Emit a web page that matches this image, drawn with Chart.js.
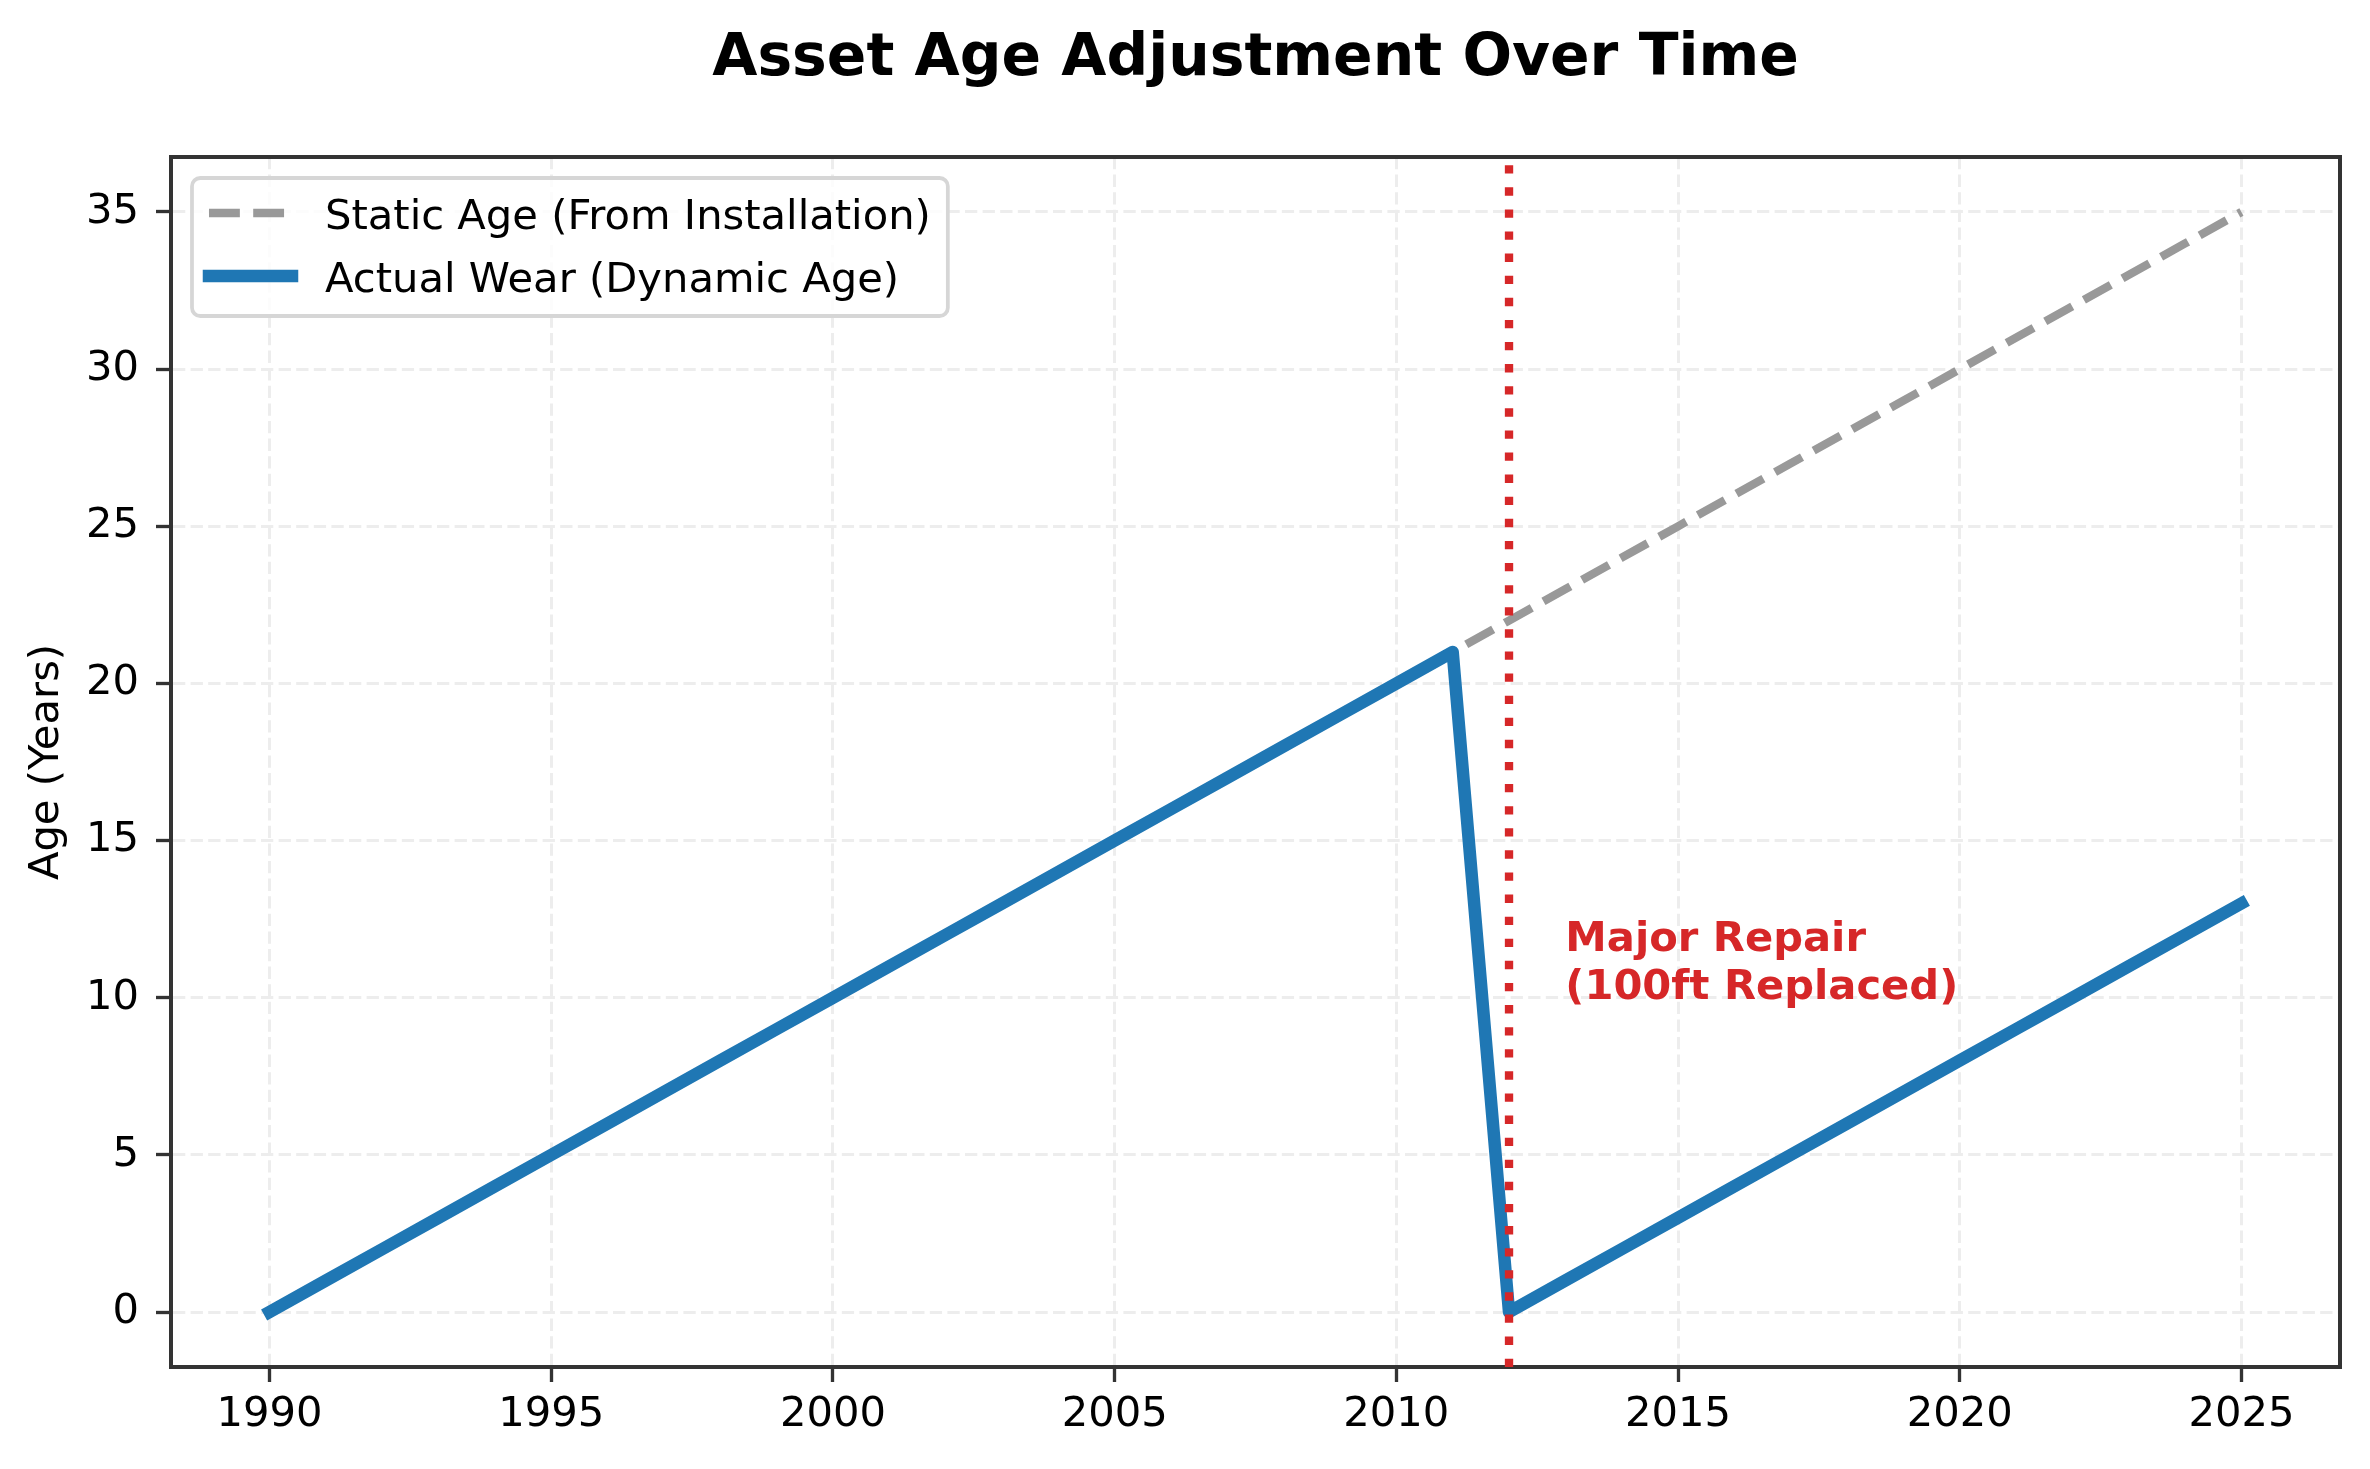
<!DOCTYPE html>
<html>
<head>
<meta charset="utf-8">
<title>Asset Age Adjustment Over Time</title>
<script src="https://cdn.jsdelivr.net/npm/chart.js@4.4.1/dist/chart.umd.min.js"></script>
<style>
  html, body { margin: 0; padding: 0; background: #fff; }
  #wrap { width: 2370px; height: 1469px; }
</style>
</head>
<body>
<div id="wrap"><canvas id="chart" width="2370" height="1469"></canvas></div>
<script>
// --- data ---
const YEARS = [1990, 1991, 1992, 1993, 1994, 1995, 1996, 1997, 1998, 1999,
               2000, 2001, 2002, 2003, 2004, 2005, 2006, 2007, 2008, 2009,
               2010, 2011, 2012, 2013, 2014, 2015, 2016, 2017, 2018, 2019,
               2020, 2021, 2022, 2023, 2024, 2025];
const STATIC_AGE = [0, 1, 2, 3, 4, 5, 6, 7, 8, 9,
                    10, 11, 12, 13, 14, 15, 16, 17, 18, 19,
                    20, 21, 22, 23, 24, 25, 26, 27, 28, 29,
                    30, 31, 32, 33, 34, 35];
const ACTUAL_AGE = [0, 1, 2, 3, 4, 5, 6, 7, 8, 9,
                    10, 11, 12, 13, 14, 15, 16, 17, 18, 19,
                    20, 21, 0, 1, 2, 3, 4, 5, 6, 7,
                    8, 9, 10, 11, 12, 13];
const REPAIR_YEAR = 2012;
const X_TICKS = [1990, 1995, 2000, 2005, 2010, 2015, 2020, 2025];
const Y_TICKS = [0, 5, 10, 15, 20, 25, 30, 35];
const X_RANGE = [1988.25, 2026.75];
const Y_RANGE = [-1.75, 36.75];

const TITLE = 'Asset Age Adjustment Over Time';
const Y_LABEL = 'Age (Years)';
const SERIES_LABELS = ['Static Age (From Installation)', 'Actual Wear (Dynamic Age)'];
const NOTE_AT = [2013, 10];
const NOTE_LINES = ['Major Repair', '(100ft Replaced)'];

const FONT = "'DejaVu Sans', 'Liberation Sans', sans-serif";
const FS = 41.67;          // 10pt @ 300dpi
const LW = 4.17;           // 1pt @ 300dpi

Chart.defaults.font.family = FONT;
Chart.defaults.font.size = FS;
Chart.defaults.color = '#000';

const pts = ys => YEARS.map((x, i) => ({ x, y: ys[i] }));

// title, top/right spines, annotation and legend box
const decor = {
  id: 'decor',
  afterDraw(chart) {
    const { ctx, chartArea: a, scales } = chart;
    ctx.save();

    // top and right spines
    ctx.strokeStyle = '#333';
    ctx.lineWidth = 4;
    ctx.beginPath();
    ctx.moveTo(a.left, a.top);
    ctx.lineTo(a.right, a.top);
    ctx.lineTo(a.right, a.bottom);
    ctx.stroke();

    // title
    ctx.fillStyle = '#000';
    ctx.font = `bold ${FS * 1.4}px ${FONT}`;
    ctx.textAlign = 'center';
    ctx.textBaseline = 'alphabetic';
    ctx.fillText(TITLE, (a.left + a.right) / 2, 75);

    // annotation
    const nx = scales.x.getPixelForValue(NOTE_AT[0]);
    const ny = scales.y.getPixelForValue(NOTE_AT[1]) + 1.5;
    ctx.fillStyle = '#d62728';
    ctx.font = `bold ${FS}px ${FONT}`;
    ctx.textAlign = 'left';
    NOTE_LINES.forEach((t, i) => {
      ctx.fillText(t, nx, ny - (NOTE_LINES.length - 1 - i) * 48);
    });

    // legend
    const sets = chart.data.datasets.slice(0, 2);
    ctx.font = `${FS}px ${FONT}`;
    const tw = Math.max(...sets.map(d => ctx.measureText(d.label).width));
    const x0 = a.left + 21, y0 = a.top + 21;
    const w = 17 + 83 + 33 + tw + 17, h = 138;
    ctx.beginPath();
    ctx.roundRect(x0, y0, w, h, 8.3);
    ctx.fillStyle = 'rgba(255,255,255,0.8)';
    ctx.fill();
    ctx.strokeStyle = '#d6d6d6';
    ctx.lineWidth = LW * 0.9;
    ctx.stroke();

    sets.forEach((d, i) => {
      const cy = y0 + 35 + i * 63;
      ctx.save();
      ctx.strokeStyle = d.borderColor;
      ctx.lineWidth = d.borderWidth;
      ctx.lineCap = d.borderCapStyle;
      ctx.setLineDash(d.borderDash || []);
      ctx.beginPath();
      ctx.moveTo(x0 + 17, cy);
      ctx.lineTo(x0 + 17 + 83, cy);
      ctx.stroke();
      ctx.restore();
      ctx.fillStyle = '#000';
      ctx.textAlign = 'left';
      ctx.fillText(d.label, x0 + 17 + 83 + 33, cy + 16);
    });

    ctx.restore();
  }
};

const gridOpts = {
  color: '#ededed',
  lineWidth: 3,
  tickColor: '#333',
  tickWidth: 3.33,
  tickLength: 15
};
const borderOpts = { color: '#333', width: 4, dash: [12.3, 5.3] };

new Chart(document.getElementById('chart'), {
  type: 'line',
  data: {
    datasets: [
      {
        label: SERIES_LABELS[0],
        data: pts(STATIC_AGE),
        borderColor: '#999999',
        borderWidth: 2 * LW,
        borderDash: [3.7 * 2 * LW, 1.6 * 2 * LW],
        borderCapStyle: 'butt',
        borderJoinStyle: 'round',
        pointRadius: 0,
        tension: 0,
        order: 2
      },
      {
        label: SERIES_LABELS[1],
        data: pts(ACTUAL_AGE),
        borderColor: '#1f77b4',
        borderWidth: 3 * LW,
        borderCapStyle: 'square',
        borderJoinStyle: 'round',
        pointRadius: 0,
        tension: 0,
        order: 1
      },
      {
        label: 'repair',
        data: [{ x: REPAIR_YEAR, y: Y_RANGE[0] }, { x: REPAIR_YEAR, y: Y_RANGE[1] }],
        borderColor: '#d62728',
        borderWidth: 2 * LW,
        borderDash: [2 * LW, 1.65 * 2 * LW],
        borderCapStyle: 'butt',
        pointRadius: 0,
        order: 0
      }
    ]
  },
  options: {
    responsive: false,
    devicePixelRatio: 1,
    animation: false,
    events: [],
    layout: { padding: { left: 0, right: 30, top: 157, bottom: 0 } },
    plugins: {
      legend: { display: false },
      tooltip: { enabled: false },
      title: { display: false }
    },
    scales: {
      x: {
        type: 'linear',
        min: X_RANGE[0],
        max: X_RANGE[1],
        afterBuildTicks: s => { s.ticks = X_TICKS.map(v => ({ value: v })); },
        afterFit: s => { s.height = 102; },
        ticks: { callback: v => String(v), padding: 8, maxRotation: 0, autoSkip: false, color: '#000' },
        grid: gridOpts,
        border: borderOpts
      },
      y: {
        type: 'linear',
        min: Y_RANGE[0],
        max: Y_RANGE[1],
        afterBuildTicks: s => { s.ticks = Y_TICKS.map(v => ({ value: v })); },
        afterFit: s => { s.width = 171; },
        ticks: { callback: v => String(v), padding: 17, autoSkip: false, color: '#000' },
        grid: gridOpts,
        border: borderOpts,
        title: {
          display: true,
          text: Y_LABEL,
          color: '#000',
          font: { size: FS },
          padding: { top: 22.6, bottom: 0 }
        }
      }
    }
  },
  plugins: [decor]
});
</script>
</body>
</html>
